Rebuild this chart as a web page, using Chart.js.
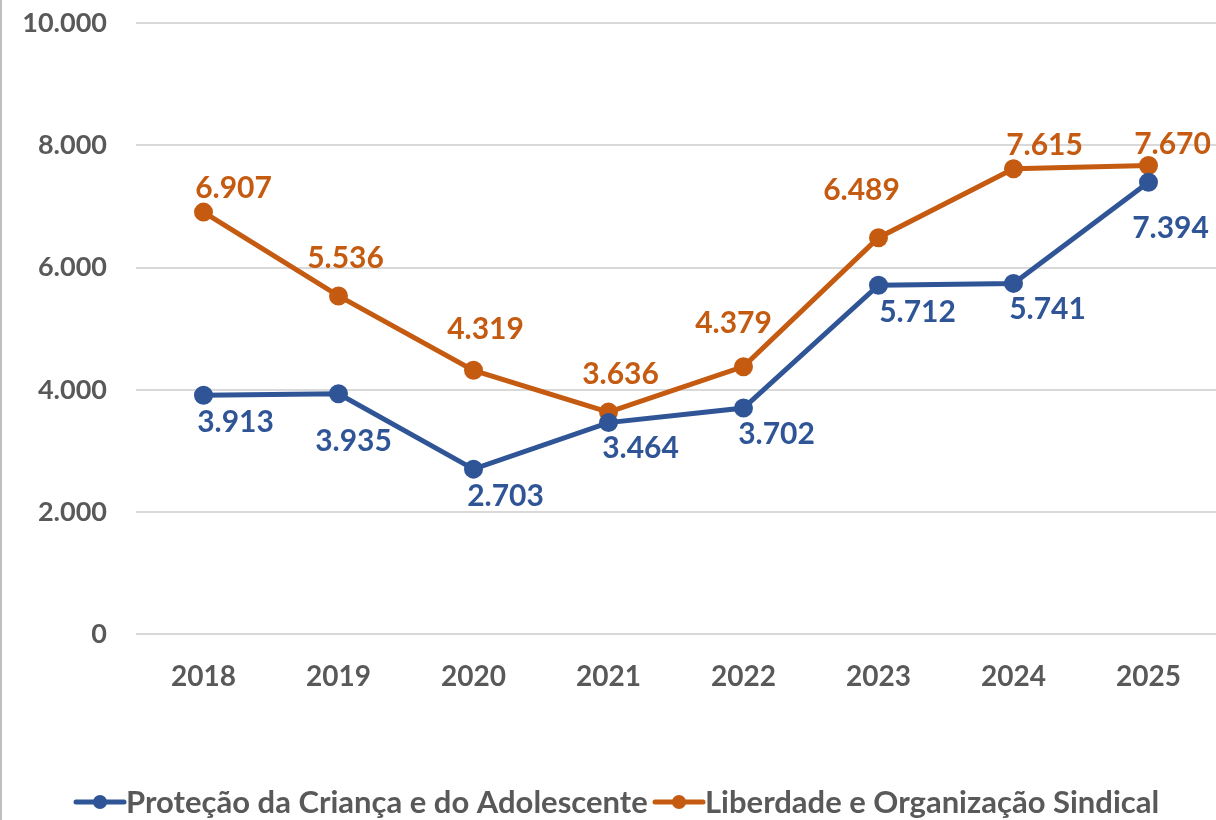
<!DOCTYPE html>
<html lang="pt">
<head>
    <meta charset="UTF-8">
    <title>Proteção da Criança e Liberdade Sindical</title>
    <script src="https://cdn.jsdelivr.net/npm/chart.js"></script>
    <style>
        html, body {
            margin: 0;
            padding: 0;
            background: #ffffff;
            overflow: hidden;
        }
        .wrap {
            position: relative;
            width: 1216px;
            height: 820px;
            border-left: 2px solid #bfbfbf;
            box-sizing: border-box;
        }
        canvas {
            display: block;
        }
    </style>
</head>
<body>
    <div class="wrap" id="wrap">
        <canvas id="chart"></canvas>
    </div>

    <script>
        // data
        const years = ['2018', '2019', '2020', '2021', '2022', '2023', '2024', '2025'];
        const criancaValues = [3913, 3935, 2703, 3464, 3702, 5712, 5741, 7394];
        const sindicalValues = [6907, 5536, 4319, 3636, 4379, 6489, 7615, 7670];
        const yTicks = [0, 2000, 4000, 6000, 8000, 10000];
        const seriesNames = ['Proteção da Criança e do Adolescente', 'Liberdade e Organização Sindical'];

        // label offsets (px from point centre), hand placed like the original
        const criancaLabelShift = [[32, 27], [15, 48], [32, 27], [32, 26], [33, 26], [39, 27], [34, 26], [22, 46]];
        const sindicalLabelShift = [[30, -24], [7, -38], [12, -41], [12, -38], [-10, -43], [-17, -47], [31, -23], [24, -21]];

        const BLUE = '#2F5597';
        const ORANGE = '#C55A11';
        const GREY = '#595959';
        const FONT = 'Lato, "Open Sans", sans-serif';

        function fmt(v) {
            return v.toLocaleString('de-DE');
        }

        const valueLabels = {
            id: 'valueLabels',
            afterDatasetsDraw(chart) {
                const c = chart.ctx;
                c.save();
                c.font = 'bold 30px ' + FONT;
                c.textAlign = 'center';
                c.textBaseline = 'middle';
                chart.data.datasets.forEach((ds, i) => {
                    const meta = chart.getDatasetMeta(i);
                    const shifts = i === 0 ? criancaLabelShift : sindicalLabelShift;
                    c.fillStyle = ds.borderColor;
                    meta.data.forEach((pt, j) => {
                        c.fillText(fmt(ds.data[j]), pt.x + shifts[j][0], pt.y + shifts[j][1]);
                    });
                });
                c.restore();
            }
        };

        const bottomLegend = {
            id: 'bottomLegend',
            afterDraw(chart) {
                const c = chart.ctx;
                const y = 802;
                const starts = [72, 651];
                c.save();
                c.font = 'bold 31px ' + FONT;
                c.textBaseline = 'middle';
                c.textAlign = 'left';
                chart.data.datasets.forEach((ds, i) => {
                    const x = starts[i];
                    c.strokeStyle = ds.borderColor;
                    c.lineWidth = 5;
                    c.lineCap = 'round';
                    c.beginPath();
                    c.moveTo(x + 2, y);
                    c.lineTo(x + 50, y);
                    c.stroke();
                    c.fillStyle = ds.borderColor;
                    c.beginPath();
                    c.arc(x + 26, y, 7, 0, Math.PI * 2);
                    c.fill();
                    c.fillStyle = GREY;
                    c.fillText(seriesNames[i], x + 52, y + 1);
                });
                c.restore();
            }
        };

        const ctx = document.getElementById('chart').getContext('2d');
        const chart = new Chart(ctx, {
            type: 'line',
            data: {
                labels: years,
                datasets: [
                    {
                        label: seriesNames[0],
                        data: criancaValues,
                        borderColor: BLUE,
                        backgroundColor: BLUE,
                        borderWidth: 5,
                        pointRadius: 7,
                        pointHoverRadius: 7,
                        tension: 0,
                        fill: false
                    },
                    {
                        label: seriesNames[1],
                        data: sindicalValues,
                        borderColor: ORANGE,
                        backgroundColor: ORANGE,
                        borderWidth: 5,
                        pointRadius: 7,
                        pointHoverRadius: 7,
                        tension: 0,
                        fill: false
                    }
                ]
            },
            options: {
                responsive: true,
                maintainAspectRatio: false,
                animation: false,
                layout: {
                    padding: { top: 23, right: 0, bottom: 100, left: 0 }
                },
                plugins: {
                    legend: { display: false },
                    tooltip: { enabled: false }
                },
                scales: {
                    x: {
                        offset: true,
                        afterFit(axis) {
                            axis.paddingLeft = 0;
                            axis.paddingRight = 0;
                        },
                        grid: { display: false, drawTicks: false },
                        border: { display: false },
                        ticks: {
                            color: GREY,
                            font: { family: FONT, size: 28, weight: 'bold' },
                            padding: 26
                        }
                    },
                    y: {
                        min: 0,
                        max: 10000,
                        afterBuildTicks(axis) {
                            axis.ticks = yTicks.map(v => ({ value: v }));
                        },
                        afterFit(axis) {
                            axis.width = 134;
                            axis.paddingTop = 0;
                            axis.paddingBottom = 0;
                        },
                        grid: {
                            color: '#d9d9d9',
                            lineWidth: 2,
                            drawTicks: false
                        },
                        border: { display: false },
                        ticks: {
                            color: GREY,
                            font: { family: FONT, size: 27, weight: 'bold' },
                            padding: 29,
                            callback: v => fmt(v)
                        }
                    }
                }
            },
            plugins: [valueLabels, bottomLegend]
        });

        // the scale keeps a little space on the right; widen the canvas so the
        // plot area reaches the window edge like the original
        const gap = chart.width - chart.chartArea.right;
        if (gap > 0) {
            document.getElementById('wrap').style.width = (1216 + gap) + 'px';
            chart.resize();
        }
    </script>
</body>
</html>
